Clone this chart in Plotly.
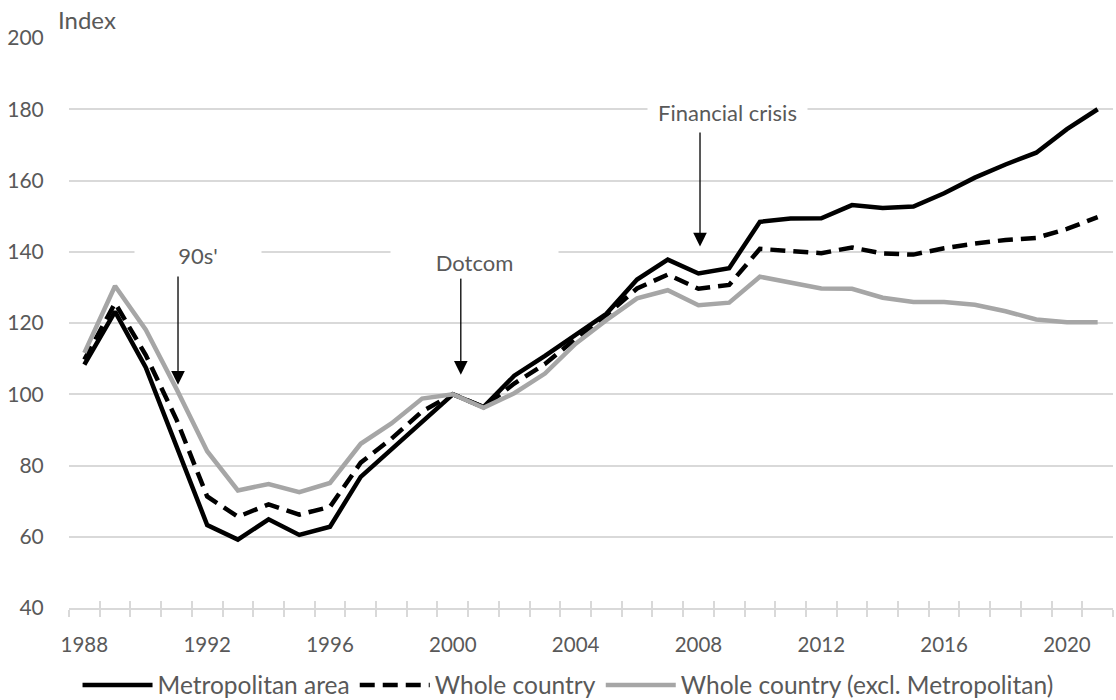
import plotly.graph_objects as go

# Price index, 2000 = 100
years = list(range(1988, 2022))

metropolitan = [108.3, 123.2, 107.5, 85.0, 63.3, 59.2, 64.9, 60.5, 62.8, 76.8,
                84.5, 92.3, 100.0, 96.4, 105.2, 110.8, 116.8, 122.6, 132.2, 137.8,
                133.9, 135.4, 148.4, 149.3, 149.4, 153.1, 152.3, 152.7, 156.4, 160.8,
                164.5, 167.8, 174.4, 180.0]

whole_country = [109.7, 125.6, 111.0, 92.9, 71.3, 65.6, 69.1, 66.2, 68.4, 80.8,
                 87.5, 95.2, 100.0, 96.4, 103.0, 108.5, 115.6, 122.2, 129.7, 133.6,
                 129.6, 130.7, 140.8, 140.1, 139.6, 141.2, 139.5, 139.2, 141.0, 142.3,
                 143.3, 143.9, 146.4, 149.7]

excl_metropolitan = [111.6, 130.4, 118.1, 101.5, 84.0, 73.0, 74.8, 72.5, 75.1, 86.1,
                     91.8, 98.8, 100.0, 96.2, 100.3, 105.8, 114.2, 120.8, 126.9, 129.2,
                     125.0, 125.7, 133.0, 131.4, 129.7, 129.6, 127.1, 125.9, 125.9, 125.1,
                     123.3, 121.0, 120.2, 120.2]

series_names = ["Metropolitan area", "Whole country", "Whole country (excl. Metropolitan)"]

label_years = list(range(1988, 2021, 4))
y_ticks = list(range(40, 201, 20))

# Event markers: (label, arrow x, arrow tail y, arrow tip y, label x, label y, label box width)
events = [
    ("90s'", 1991.05, 133.5, 102.7, 1991.71, 139.1, 124),
    ("Dotcom", 2000.26, 133.0, 105.5, 2000.70, 137.2, 165),
    ("Financial crisis", 2008.05, 173.9, 141.5, 2008.96, 179.2, 157),
]

FONT = "Lato"
TEXT = "#595959"
GRID = "#d9d9d9"

fig = go.Figure()
fig.add_trace(go.Scatter(x=years, y=metropolitan, name=series_names[0], mode="lines",
                         line=dict(color="#000000", width=4.5)))
fig.add_trace(go.Scatter(x=years, y=whole_country, name=series_names[1], mode="lines",
                         line=dict(color="#000000", width=4.5, dash="15px,8px")))
fig.add_trace(go.Scatter(x=years, y=excl_metropolitan, name=series_names[2], mode="lines",
                         line=dict(color="#a6a6a6", width=4.5), xaxis="x2"))

half_years = [y - 0.5 for y in years] + [years[-1] + 0.5]
x_range = [years[0] - 0.5, years[-1] + 0.5]

annotations = [
    dict(text="Index", xref="paper", yref="paper", x=-0.012, y=1.032,
         xanchor="left", yanchor="middle", showarrow=False,
         font=dict(family=FONT, size=24, color=TEXT)),
]
for label, ax_x, tail_y, tip_y, lx, ly, bw in events:
    annotations.append(dict(
        text="", x=ax_x, y=tip_y, ax=ax_x, ay=tail_y, xref="x", yref="y",
        axref="x", ayref="y", showarrow=True, arrowhead=2, arrowsize=2.1,
        arrowwidth=1.3, arrowcolor="#000000", standoff=0, startstandoff=0))
    annotations.append(dict(
        text=label, x=lx, y=ly, xref="x", yref="y", showarrow=False,
        xanchor="center", yanchor="middle", bgcolor="white", width=bw, height=30,
        font=dict(family=FONT, size=22, color=TEXT)))

fig.update_layout(
    width=1116, height=700,
    margin=dict(l=69, r=3, t=38, b=92, autoexpand=False),
    paper_bgcolor="white", plot_bgcolor="white",
    font=dict(family=FONT, size=20, color=TEXT),
    showlegend=True,
    legend=dict(orientation="h", x=0.478, xanchor="center", y=-0.135, yanchor="middle",
                itemwidth=70, font=dict(family=FONT, size=24.5, color=TEXT),
                bgcolor="rgba(0,0,0,0)", traceorder="normal"),
    xaxis=dict(range=x_range, tickmode="array", tickvals=label_years,
               ticktext=[str(v) for v in label_years],
               ticks="outside", ticklen=18, tickcolor="rgba(0,0,0,0)",
               showgrid=False, zeroline=False, showline=True, linecolor=GRID, linewidth=1.5,
               tickfont=dict(family=FONT, size=20.5, color=TEXT),
               minor=dict(tickmode="array", tickvals=half_years, ticks="outside",
                          ticklen=7, tickcolor=GRID, tickwidth=1.5, showgrid=False)),
    xaxis2=dict(range=x_range, overlaying="x", anchor="y", side="bottom",
                tickmode="array", tickvals=half_years, ticks="inside", ticklen=7,
                tickcolor=GRID, tickwidth=1.5, showticklabels=False,
                showgrid=False, zeroline=False, showline=False),
    yaxis=dict(range=[40, 200], tickmode="array", tickvals=y_ticks,
               showgrid=True, gridcolor=GRID, gridwidth=1.5, zeroline=False, showline=False,
               ticks="outside", ticklen=20, tickcolor="rgba(0,0,0,0)",
               tickfont=dict(family=FONT, size=21, color=TEXT)),
    annotations=annotations,
)

fig.write_html("out.html")
